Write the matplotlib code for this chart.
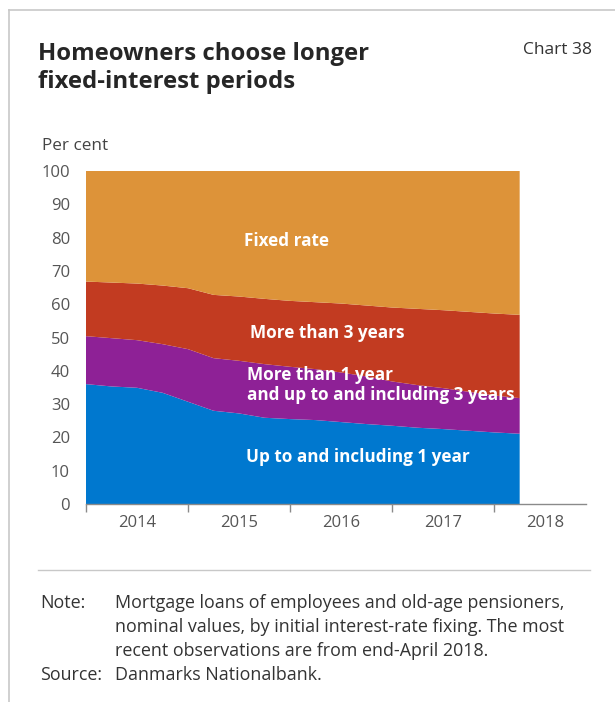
import matplotlib
matplotlib.use("Agg")
import matplotlib.pyplot as plt
from matplotlib.lines import Line2D

plt.rcParams['font.family'] = ['Open Sans', 'DejaVu Sans']

# Months since January 2014, quarterly observations up to end-April 2018
months = [0, 3, 6, 9, 12, 15, 18, 21, 24, 27, 30, 33, 36, 39, 42, 45, 48, 51]

# Share of mortgage loans by initial interest-rate fixing, per cent
up_to_1y = [36.0, 35.3, 34.9, 33.4, 30.7, 28.0, 27.2, 25.9, 25.5, 25.2,
            24.6, 24.0, 23.5, 22.9, 22.5, 22.0, 21.5, 21.1]
one_to_3y = [14.4, 14.5, 14.3, 14.6, 15.8, 15.8, 15.8, 16.1, 15.7, 15.3,
             14.9, 14.3, 13.3, 12.8, 12.3, 11.7, 11.1, 10.7]
over_3y = [16.4, 16.7, 17.0, 17.6, 18.3, 19.0, 19.3, 19.6, 19.8, 20.1,
           20.7, 21.3, 22.2, 22.9, 23.4, 24.0, 24.6, 25.0]
fixed = [33.2, 33.5, 33.8, 34.4, 35.2, 37.2, 37.7, 38.4, 39.0, 39.4,
         39.8, 40.4, 41.0, 41.4, 41.8, 42.3, 42.8, 43.2]

years = ["2014", "2015", "2016", "2017", "2018"]
yticks = [0, 10, 20, 30, 40, 50, 60, 70, 80, 90, 100]

colors = ["#0078CF", "#8E2196", "#C23B21", "#DD9339"]

W, H = 615, 702
fig = plt.figure(figsize=(W / 100, H / 100), dpi=100)

def fx(px):
    return px / W

def fy(py):
    return 1 - py / H

ax = fig.add_axes([fx(86), fy(504), fx(586) - fx(86), fy(171) - fy(504)])
ax.stackplot(months, up_to_1y, one_to_3y, over_3y, fixed,
             colors=colors, linewidth=0)
ax.set_xlim(0, 58.8)
ax.set_ylim(0, 100)

for side in ["top", "right", "left"]:
    ax.spines[side].set_visible(False)
ax.spines["bottom"].set_color("#8a8a8a")
ax.spines["bottom"].set_linewidth(1.0)

ax.set_yticks(yticks)
ax.set_yticklabels([str(v) for v in yticks])
ax.tick_params(axis="y", length=0, pad=11.5, labelsize=12, labelcolor="#555555")

ax.set_xticks([12 * i for i in range(len(years))])
ax.set_xticklabels([])
ax.set_xticks([12 * i + 6 for i in range(len(years))], minor=True)
ax.set_xticklabels(years, minor=True)
ax.tick_params(axis="x", which="major", length=6, width=1.0, color="#8a8a8a", direction="out")
ax.tick_params(axis="x", which="minor", length=0, pad=8, labelsize=12, labelcolor="#555555")

# Labels inside the stacked areas
lab = dict(color="white", fontsize=12.3, fontweight="bold")
ax.text(23.6, 79, "Fixed rate", ha="center", va="center", **lab)
ax.text(28.4, 51.5, "More than 3 years", ha="center", va="center", **lab)
ax.text(18.9, 35.8, "More than 1 year\nand up to and including 3 years",
        ha="left", va="center", linespacing=1.12, **lab)
ax.text(32.0, 14.2, "Up to and including 1 year", ha="center", va="center", **lab)

# Frame lines around the panel
fig.add_artist(Line2D([fx(9), fx(9)], [fy(10), 0], color="#c8c8c8", lw=1.2))
fig.add_artist(Line2D([fx(9), 1], [fy(10), fy(10)], color="#c8c8c8", lw=1.2))

# Title block
fig.text(fx(38), fy(60), "Homeowners choose longer", fontsize=17.2, fontweight="bold",
         color="#262626", va="baseline", ha="left")
fig.text(fx(38), fy(88), "fixed-interest periods", fontsize=17.2, fontweight="bold",
         color="#262626", va="baseline", ha="left")
fig.text(fx(592), fy(54), "Chart 38", fontsize=12.5, color="#333333",
         va="baseline", ha="right")
fig.text(fx(42), fy(150), "Per cent", fontsize=12.3, color="#444444",
         va="baseline", ha="left")

# Separator and notes
fig.add_artist(Line2D([fx(38), fx(590)], [fy(570), fy(570)], color="#c8c8c8", lw=1.0))
note = dict(fontsize=12.9, color="#333333", va="baseline", ha="left")
fig.text(fx(40), fy(608), "Note:", **note)
fig.text(fx(115), fy(608), "Mortgage loans of employees and old-age pensioners,", **note)
fig.text(fx(115), fy(632), "nominal values, by initial interest-rate fixing. The most", **note)
fig.text(fx(115), fy(656), "recent observations are from end-April 2018.", **note)
fig.text(fx(40), fy(680), "Source:", **note)
fig.text(fx(115), fy(680), "Danmarks Nationalbank.", **note)

fig.savefig("out.png", dpi=100, facecolor="white")
